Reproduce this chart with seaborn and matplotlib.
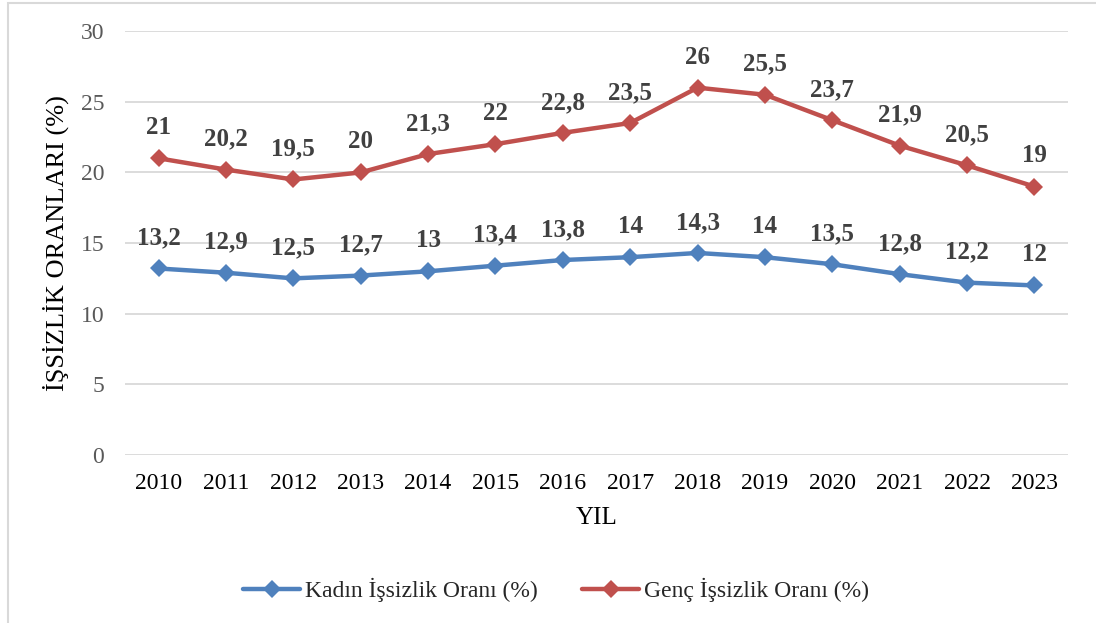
import matplotlib
matplotlib.use("Agg")
import matplotlib.pyplot as plt
import seaborn as sns
import pandas as pd
from matplotlib.patches import Rectangle

years = [2010, 2011, 2012, 2013, 2014, 2015, 2016, 2017, 2018, 2019, 2020, 2021, 2022, 2023]
kadin = [13.2, 12.9, 12.5, 12.7, 13.0, 13.4, 13.8, 14.0, 14.3, 14.0, 13.5, 12.8, 12.2, 12.0]
genc = [21.0, 20.2, 19.5, 20.0, 21.3, 22.0, 22.8, 23.5, 26.0, 25.5, 23.7, 21.9, 20.5, 19.0]
series_names = ["Kadın İşsizlik Oranı (%)", "Genç İşsizlik Oranı (%)"]
yticks = [0, 5, 10, 15, 20, 25, 30]

sns.set_theme(style="white")
plt.rcParams['font.family'] = ['Liberation Serif', 'DejaVu Serif']

df = pd.DataFrame({
    "YIL": years * 2,
    "value": kadin + genc,
    "series": [series_names[0]] * len(years) + [series_names[1]] * len(years),
})

fig = plt.figure(figsize=(10.96, 6.23), dpi=100)
ax = fig.add_axes([0.114, 0.2697, 0.8605, 0.6803])

palette = {series_names[0]: "#4F81BD", series_names[1]: "#C0504D"}
sns.lineplot(data=df, x="YIL", y="value", hue="series", palette=palette,
             marker="D", markersize=9, markeredgewidth=0, linewidth=3.2,
             ax=ax, legend=True)

def fmt(v):
    s = f"{v:.1f}".rstrip("0").rstrip(".")
    return s.replace(".", ",")

for vals in (kadin, genc):
    for x, v in zip(years, vals):
        ax.annotate(fmt(v), (x, v), xytext=(0, 22), textcoords="offset points",
                    ha="center", va="center", fontsize=18, fontweight="bold",
                    color="#404040")

ax.set_xlim(2009.5, 2023.5)
ax.set_ylim(0, 30)
ax.set_yticks(yticks)
ax.set_xticks(years)
ax.set_xticklabels([str(y) for y in years], fontsize=17, color="black")
ax.set_yticklabels([str(t) for t in yticks], fontsize=17, color="#595959")
ax.tick_params(axis="both", length=0)
ax.tick_params(axis="y", pad=15)
ax.tick_params(axis="x", pad=13)
ax.grid(axis="y", color="#D9D9D9", linewidth=1.3)
ax.set_axisbelow(True)
for sp in ax.spines.values():
    sp.set_visible(False)

ax.set_xlabel("YIL", fontsize=18, color="black", labelpad=9)
ax.set_ylabel("İŞSİZLİK ORANLARI (%)", fontsize=19, color="black", labelpad=8)

handles, labels = ax.get_legend_handles_labels()
leg = ax.legend(handles, labels, loc="center", bbox_to_anchor=(556 / 1096, 1 - 590 / 623),
                bbox_transform=fig.transFigure,
                ncol=2, frameon=False, fontsize=17, handlelength=2.4,
                columnspacing=1.9, handletextpad=0.2)

fig.patches.append(Rectangle((8 / 1096, -0.01), 1.1, 1 - 3 / 623 + 0.01,
                             transform=fig.transFigure, fill=False,
                             edgecolor="#D9D9D9", linewidth=1.5))

fig.savefig("out.png", dpi=100)
